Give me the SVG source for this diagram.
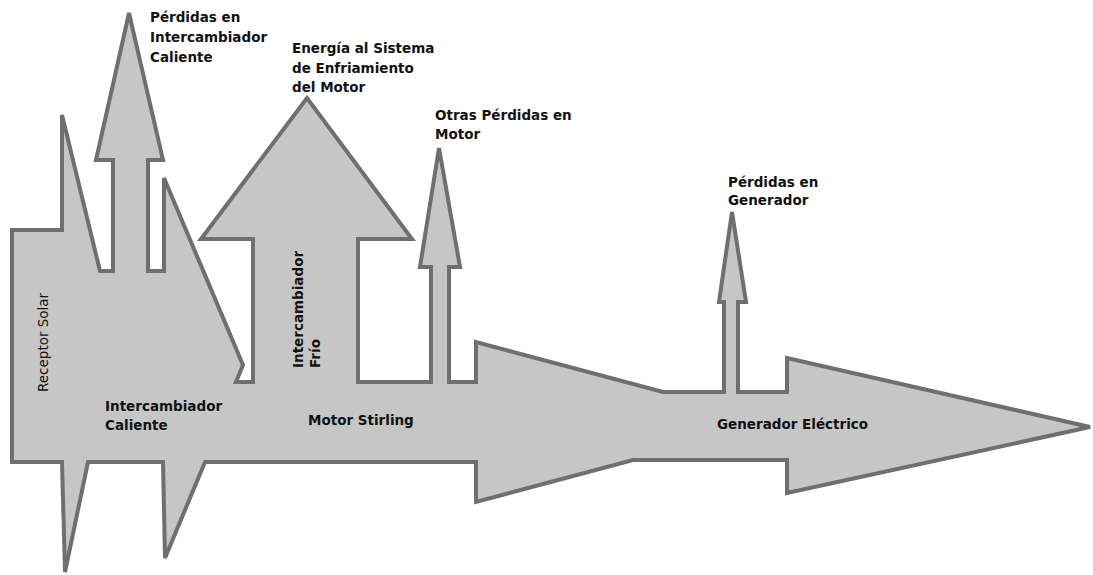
<svg xmlns="http://www.w3.org/2000/svg" width="1093" height="575" viewBox="0 0 1093 575">
<style>
.flow{fill:#c6c6c6;stroke:#6f6f6f;stroke-width:4;stroke-linejoin:miter}
.lbl{font-family:"DejaVu Sans","Liberation Sans",sans-serif;font-weight:bold;font-size:13.5px;fill:#111}
.lbln{font-family:"DejaVu Sans","Liberation Sans",sans-serif;font-size:13.5px;fill:#111}
</style>
<rect width="1093" height="575" fill="#ffffff"/>
<g id="sankey">
<path class="flow" d="M12,230 L62,230 L62,115 L100,271 L113,271 L113,160 L96,160 L129,13 L163,160 L148,160 L148,271 L164,271 L164,178 L243,365 L236,382 L253,382 L253,239 L201,239 L307,98 L412,239 L358,239 L358,382 L431,382 L431,267 L420,267 L439,148 L460,267 L449,267 L449,382 L476,382 L476,342 L663,392 L724,392 L724,302 L719,302 L732,212 L746,302 L738,302 L738,392 L787,392 L787,358 L1090,427 L787,493 L787,460 L633,460 L476,502 L476,462 L205,462 L165,558 L163,462 L88,462 L65,572 L62,462 L12,462 Z"/>
</g>
<g id="receptor-solar">
<text class="lbln" transform="translate(48,392) rotate(-90)">Receptor Solar</text>
</g>
<g id="intercambiador-caliente">
<text class="lbl" x="105" y="411">Intercambiador</text>
<text class="lbl" x="105" y="430">Caliente</text>
</g>
<g id="perdidas-intercambiador">
<text class="lbl" x="150" y="22">Pérdidas en</text>
<text class="lbl" x="150" y="42">Intercambiador</text>
<text class="lbl" x="150" y="62">Caliente</text>
</g>
<g id="intercambiador-frio">
<text class="lbl" transform="translate(303,368) rotate(-90)">Intercambiador</text>
<text class="lbl" transform="translate(320,368) rotate(-90)">Frío</text>
</g>
<g id="energia-enfriamiento">
<text class="lbl" x="292" y="53">Energía al Sistema</text>
<text class="lbl" x="292" y="73">de Enfriamiento</text>
<text class="lbl" x="292" y="92">del Motor</text>
</g>
<g id="motor-stirling">
<text class="lbl" x="308" y="425">Motor Stirling</text>
</g>
<g id="otras-perdidas">
<text class="lbl" x="435" y="120">Otras Pérdidas en</text>
<text class="lbl" x="435" y="139">Motor</text>
</g>
<g id="perdidas-generador">
<text class="lbl" x="728" y="187">Pérdidas en</text>
<text class="lbl" x="728" y="205">Generador</text>
</g>
<g id="generador-electrico">
<text class="lbl" x="717" y="429">Generador Eléctrico</text>
</g>
</svg>
